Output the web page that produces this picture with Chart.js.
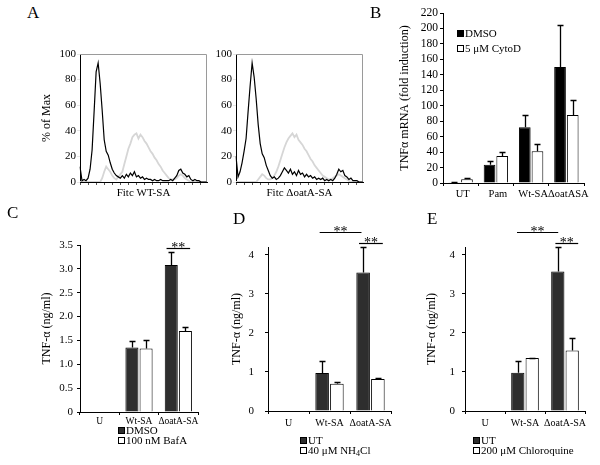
<!DOCTYPE html>
<html><head><meta charset="utf-8">
<script src="https://cdn.jsdelivr.net/npm/chart.js@4.4.1/dist/chart.umd.min.js"></script>
<style>
body{margin:0;background:#fff;width:600px;height:465px;overflow:hidden;position:relative;font-family:'Liberation Serif','Times New Roman',serif;color:#000}
canvas{position:absolute}
.lbl{position:absolute;font-size:17px;line-height:17px;z-index:2}
.leg{position:absolute;font-size:11px;line-height:10px;white-space:nowrap;z-index:2}
.sw{display:inline-block;width:5px;height:5px;border:1px solid #000;background:#fff;margin-right:1px;vertical-align:0px}
sub{font-size:8px;vertical-align:-2px;line-height:0}
</style></head><body>
<div class="lbl" style="left:27px;top:4px">A</div>
<div class="lbl" style="left:370px;top:4px">B</div>
<div class="lbl" style="left:7px;top:204px">C</div>
<div class="lbl" style="left:233px;top:210px">D</div>
<div class="lbl" style="left:427px;top:210px">E</div>

<canvas id="a1" width="185" height="165" style="left:30px;top:40px"></canvas>
<canvas id="a2" width="185" height="165" style="left:186px;top:40px"></canvas>
<canvas id="b" width="210" height="210" style="left:390px;top:0px"></canvas>
<canvas id="c" width="200" height="240" style="left:0px;top:200px"></canvas>
<canvas id="d" width="200" height="240" style="left:200px;top:200px"></canvas>
<canvas id="e" width="200" height="240" style="left:400px;top:200px"></canvas>

<div class="leg" style="left:457px;top:26px;line-height:15px">
  <div><span class="sw" style="background:#000"></span>DMSO</div>
  <div><span class="sw"></span>5 μM CytoD</div>
</div>
<div class="leg" style="left:118px;top:425px">
  <div><span class="sw" style="background:#2e2e2e"></span>DMSO</div>
  <div><span class="sw"></span>100 nM BafA</div>
</div>
<div class="leg" style="left:300px;top:435px">
  <div><span class="sw" style="background:#2e2e2e"></span>UT</div>
  <div><span class="sw"></span>40 μM NH<sub>4</sub>Cl</div>
</div>
<div class="leg" style="left:473px;top:435px">
  <div><span class="sw" style="background:#2e2e2e"></span>UT</div>
  <div><span class="sw"></span>200 μM Chloroquine</div>
</div>

<script>
// ---------- DATA ----------
// Panel A: flow cytometry histograms (% of Max), 64 bins along the Fitc axis
const histBins = Array.from({length: 64}, (_, i) => String(i + 1));
const wtBlack = [12,1,2,1,3,10,25,55,86,93, 77,56,33,24,21,15,10,7,5,4, 3,5,3,6,4,7,5,8,4,5, 3,4,2,3,2,2,1,2,1,1, 2,1,1,1,1,2,1,3,5,9, 10,7,6,4,5,2,1,2,1,1, 0,0,0,0];
const wtGray  = [0,0,0,0,0,0,0,0,0,0,0, 3,8,12,10,8,5,3,2,4,6,8, 14,20,26,30,35,37,38,34,37,35, 32,30,27,24,22,19,17,14,12,9, 7,5,3,2,2,2,3,5,6,5, 3,2,1,0,0,0,0,0,0,0,0,0];
const oatBlack = [20,4,8,15,24,34,55,75,93,82, 65,45,30,22,19,13,9,5,3,4, 2,3,5,8,11,9,7,10,6,8, 5,9,6,7,4,6,4,5,3,4, 2,3,2,3,1,2,1,2,1,3, 6,10,8,9,5,4,2,3,1,1, 1,0,0,0];
const oatGray  = [0,0,0,0,0,0,0,0,0,0,0, 2,4,6,5,3,2,2,3,5,8,12, 17,22,27,31,34,36,38,35,37,33, 31,29,26,24,21,18,16,13,11,9, 7,5,4,3,2,2,3,4,5,6, 5,4,3,2,1,0,0,0,0,0,0,0];

// Panel B: TNFα mRNA fold induction
const catsB = ['UT', 'Pam', 'Wt-SA', 'ΔoatASA'];
const dmsoB = [1, 23.5, 72, 150];
const dmsoErrB = [0.5, 5.5, 16, 54];
const cytoB = [4.8, 35, 41, 88];
const cytoErrB = [1.3, 5.5, 10, 20];

// Panels C–E: TNF-α (ng/ml)
const catsCDE = ['U', 'Wt-SA', 'ΔoatA-SA'];
const dmsoC = [0, 1.35, 3.08];
const dmsoErrC = [0, 0.14, 0.27];
const bafC = [0, 1.33, 1.70];
const bafErrC = [0, 0.17, 0.08];

const utD = [0, 0.97, 3.55];
const utErrD = [0, 0.30, 0.65];
const nhD = [0, 0.70, 0.82];
const nhErrD = [0, 0.05, 0.03];

const utE = [0, 0.98, 3.57];
const utErrE = [0, 0.29, 0.63];
const cqE = [0, 1.36, 1.55];
const cqErrE = [0, 0.01, 0.31];

// significance brackets (category index range, value level)
const sigC = [{x1: 1.7, x2: 2.3, y: 3.44, text: '**'}];
const sigD = [{x1: 0.76, x2: 1.78, y: 4.59, text: '**'}, {x1: 1.72, x2: 2.3, y: 4.31, text: '**'}];
const sigE = [{x1: 0.8, x2: 1.83, y: 4.59, text: '**'}, {x1: 1.76, x2: 2.33, y: 4.31, text: '**'}];

// ---------- PLUGINS ----------
const FONT = "'Liberation Serif','Times New Roman',serif";
Chart.defaults.font.family = FONT;
Chart.defaults.color = '#000';

const frameBox = {
  id: 'frameBox',
  beforeDatasetsDraw(chart, args, opts) {
    if (!opts || !opts.color) return;
    const a = chart.chartArea, ctx = chart.ctx;
    ctx.save();
    ctx.strokeStyle = opts.color; ctx.lineWidth = 1;
    ctx.beginPath();
    ctx.moveTo(a.left, a.top + 0.5); ctx.lineTo(a.right - 0.5, a.top + 0.5); ctx.lineTo(a.right - 0.5, a.bottom);
    ctx.stroke();
    ctx.restore();
  }
};
const errorBars = {
  id: 'errorBars',
  afterDatasetsDraw(chart, args, opts) {
    const ys = chart.scales.y, ctx = chart.ctx;
    chart.data.datasets.forEach((ds, di) => {
      if (!ds.errors) return;
      const meta = chart.getDatasetMeta(di);
      meta.data.forEach((bar, i) => {
        const e = ds.errors[i];
        if (!e) return;
        const v = ds.data[i];
        const x = Math.round(bar.x) + 0.5;
        const y0 = ys.getPixelForValue(v), y1 = Math.round(ys.getPixelForValue(v + e)) + 0.5;
        const cap = (opts && opts.cap) || 3;
        ctx.save();
        ctx.strokeStyle = '#000'; ctx.lineWidth = 1.3;
        ctx.beginPath();
        ctx.moveTo(x, y0); ctx.lineTo(x, y1);
        ctx.moveTo(x - cap, y1); ctx.lineTo(x + cap, y1);
        ctx.stroke();
        ctx.restore();
      });
    });
  }
};
const sigBars = {
  id: 'sigBars',
  afterDraw(chart, args, opts) {
    if (!opts || !opts.items) return;
    const xs = chart.scales.x, ys = chart.scales.y, ctx = chart.ctx;
    opts.items.forEach(it => {
      const x1 = xs.getPixelForValue(it.x1), x2 = xs.getPixelForValue(it.x2);
      const y = Math.round(ys.getPixelForValue(it.y)) + 0.5;
      ctx.save();
      ctx.strokeStyle = '#000'; ctx.lineWidth = 1.2;
      ctx.beginPath(); ctx.moveTo(x1, y); ctx.lineTo(x2, y); ctx.stroke();
      ctx.fillStyle = '#000';
      ctx.font = '14px ' + FONT;
      ctx.textAlign = 'center'; ctx.textBaseline = 'alphabetic';
      ctx.fillText(it.text, (x1 + x2) / 2, y + 3);
      ctx.restore();
    });
  }
};
Chart.register(frameBox, errorBars, sigBars);

// ---------- CHARTS ----------
function histChart(id, black, gray, yTitle, xTitle) {
  return new Chart(document.getElementById(id), {
    type: 'line',
    data: {labels: histBins, datasets: [
      {data: black, borderColor: '#000', borderWidth: 1.2, pointRadius: 0, tension: 0},
      {data: gray, borderColor: '#d6d6d6', borderWidth: 1.8, pointRadius: 0, tension: 0}
    ]},
    options: {
      responsive: false, animation: false, devicePixelRatio: 1,
      layout: {padding: {top: 14, right: 8, left: 0, bottom: 0}},
      plugins: {legend: {display: false}, tooltip: {enabled: false}, frameBox: {color: '#9a9a9a'}},
      scales: {
        x: {
          grid: {drawOnChartArea: false, tickLength: 3, tickColor: c => (c.index % 4 === 0 ? '#555' : 'rgba(0,0,0,0)')},
          border: {color: '#000'},
          ticks: {autoSkip: false, maxRotation: 0, callback: () => ''},
          title: {display: true, text: xTitle, font: {size: 11}, padding: {top: 0, bottom: 5}},
          afterFit: s => { s.height = 23; }
        },
        y: {
          min: 0, max: 100,
          ticks: {stepSize: 20, padding: 1, font: {size: 11}, autoSkip: false},
          grid: {drawOnChartArea: false, tickLength: 3},
          border: {color: '#000'},
          title: {display: !!yTitle, text: yTitle, font: {size: 12}, padding: {top: 10, bottom: 0}},
          afterFit: s => { s.width = 50; }
        }
      }
    }
  });
}
histChart('a1', wtBlack, wtGray, '% of Max', 'Fitc WT-SA');
histChart('a2', oatBlack, oatGray, '', 'Fitc ΔoatA-SA');

function barChart(id, o) {
  return new Chart(document.getElementById(id), {
    type: 'bar',
    data: {labels: o.labels, datasets: [
      {data: o.a, errors: o.aErr, backgroundColor: o.dark, borderColor: '#000', borderWidth: 1},
      {data: o.b, errors: o.bErr, backgroundColor: '#fff', borderColor: '#000', borderWidth: 1}
    ]},
    options: {
      responsive: false, animation: false, devicePixelRatio: 1,
      datasets: {bar: {categoryPercentage: o.catPct, barPercentage: o.barPct}},
      layout: {padding: {top: o.padTop, right: o.padRight, left: 0, bottom: 0}},
      plugins: {legend: {display: false}, tooltip: {enabled: false}, errorBars: {cap: 3}, sigBars: {items: o.sig}},
      scales: {
        x: {
          grid: {drawOnChartArea: false, tickLength: 3, color: '#000'},
          border: {color: '#000'},
          ticks: {font: {size: o.xFont}, padding: o.xPad, maxRotation: 0, autoSkip: false, labelOffset: o.lblOff || 0},
          afterFit: s => { s.height = o.xH; }
        },
        y: {
          min: 0, max: o.max,
          ticks: {stepSize: o.step, padding: o.yPad, font: {size: o.yFont || 11}, includeBounds: false, autoSkip: false, callback: o.fmt},
          grid: {drawOnChartArea: false, tickLength: 3, color: '#000'},
          border: {color: '#000'},
          title: {display: true, text: o.title, font: {size: 12}, padding: {top: o.titlePad, bottom: 0}},
          afterFit: s => { s.width = o.yW; }
        }
      }
    }
  });
}

barChart('b', {labels: catsB, a: dmsoB, aErr: dmsoErrB, b: cytoB, bErr: cytoErrB, dark: '#000',
  catPct: 0.72, barPct: 0.92, padTop: 13, padRight: 16, xPad: 2, xH: 27, max: 220, step: 20, yPad: 2, lblOff: 2,
  xFont: 10.5, yFont: 11.5, fmt: v => String(v), title: 'TNFα mRNA (fold induction)', titlePad: 8, yW: 53, sig: null});

barChart('c', {labels: catsCDE, a: dmsoC, aErr: dmsoErrC, b: bafC, bErr: bafErrC, dark: '#2e2e2e',
  catPct: 0.72, barPct: 0.92, padTop: 45, padRight: 2, xPad: 1, xH: 28, max: 3.5, step: 0.5, yPad: 4,
  xFont: 9.5, fmt: v => (v === 0 ? '0' : v.toFixed(1)), title: 'TNF-α (ng/ml)', titlePad: 40, yW: 80, sig: sigC});

barChart('d', {labels: catsCDE, a: utD, aErr: utErrD, b: nhD, bErr: nhErrD, dark: '#2e2e2e',
  catPct: 0.72, barPct: 0.92, padTop: 47, padRight: 9, xPad: 3, xH: 29, max: 4.2, step: 1, yPad: 11,
  xFont: 10, fmt: v => String(v), title: 'TNF-α (ng/ml)', titlePad: 30, yW: 68, sig: sigD});

barChart('e', {labels: catsCDE, a: utE, aErr: utErrE, b: cqE, bErr: cqErrE, dark: '#2e2e2e',
  catPct: 0.72, barPct: 0.92, padTop: 47, padRight: 15, xPad: 3, xH: 29, max: 4.2, step: 1, yPad: 7,
  xFont: 10, fmt: v => String(v), title: 'TNF-α (ng/ml)', titlePad: 25, yW: 65, sig: sigE});
</script>
</body></html>
